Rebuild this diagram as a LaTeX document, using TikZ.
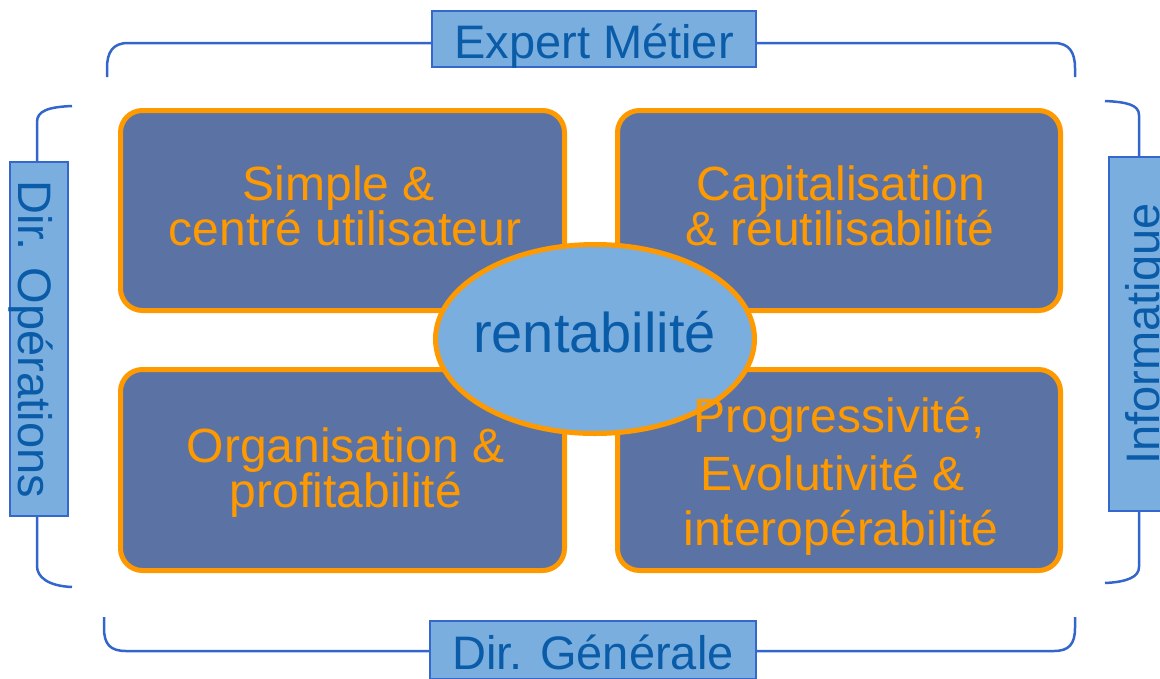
\documentclass[tikz,border=0pt]{standalone}
\usepackage{fontspec}
\setmainfont{Liberation Sans}
\usetikzlibrary{shapes.geometric}
\definecolor{boxfill}{HTML}{5A73A4}
\definecolor{orng}{HTML}{FF9900}
\definecolor{lightblue}{HTML}{7AAEDF}
\definecolor{lblborder}{HTML}{3667CC}
\definecolor{lbltext}{HTML}{0A5CA8}
\definecolor{brk}{HTML}{3366CC}
\begin{document}
\begin{tikzpicture}[x=1pt,y=-1pt,
 quad/.style={draw=orng, line width=5pt, fill=boxfill, rounded corners=22pt, minimum width=444pt, minimum height=200pt, inner sep=0pt},
 quadtxt/.style={text=orng, font=\fontsize{48}{50}\selectfont, anchor=base, inner sep=0pt},
 lbl/.style={draw=lblborder, line width=2pt, fill=lightblue, text=lbltext, font=\fontsize{47}{50}\selectfont, inner sep=0pt, text depth=0pt},
 brace/.style={draw=brk, line width=2.5pt},
 ]
\clip (0,0) rectangle (1160,678);
\fill[white] (0,0) rectangle (1160,678);
% brackets
\coordinate (topA) at (107,77);
\coordinate (topB) at (1075,77);
\coordinate (botA) at (104,617);
\coordinate (botB) at (1075,617);
\coordinate (lefA) at (72,106);
\coordinate (lefB) at (72,587);
\coordinate (rigA) at (1105,101);
\coordinate (rigB) at (1105,583);
\draw[brace] (topA) -- (107,68) .. controls (107,52) and (113,43) .. (128,43) -- (1054,43) .. controls (1069,43) and (1075,52) .. (1075,68) -- (topB);
\draw[brace] (botA) -- (104,628) .. controls (104,644) and (110,651) .. (126,651) -- (1054,651) .. controls (1069,651) and (1075,644) .. (1075,628) -- (botB);
\draw[brace] (lefA) .. controls (48,107) and (37,111) .. (37,122) -- (37,566) .. controls (37,577) and (48,586) .. (lefB);
\draw[brace] (rigA) .. controls (1127,102) and (1139,105) .. (1139,115) -- (1139,567) .. controls (1139,577) and (1127,582) .. (rigB);
% labels
\node[lbl, minimum width=324pt, minimum height=56pt, text height=38pt] (expert) at (594,39) {Expert Métier};
\node[lbl, minimum width=326pt, minimum height=58pt, text height=38pt] (dirgen) at (593,650) {Dir. Générale};
\node[lbl, rotate=-90, minimum width=354pt, minimum height=58pt, text height=42pt] (dirops) at (39,339) {Dir. Opérations};
\node[lbl, rotate=90, minimum width=354pt, minimum height=58pt, text height=42pt] (info) at (1138,334) {Informatique};
% quadrants
\node[quad] (q1) at (342.5,210.5) {};
\node[quad, minimum width=443pt] (q2) at (839,210.5) {};
\node[quad, minimum height=201pt] (q3) at (342.5,470) {};
\node[quad, minimum width=443pt, minimum height=201pt] (q4) at (839,470) {};
% centre
\node[ellipse, draw=orng, line width=5pt, fill=lightblue, minimum width=319pt, minimum height=189pt, inner sep=0pt] (core) at (595,339) {};
\node[text=lbltext, font=\fontsize{56}{60}\selectfont, anchor=base, inner sep=0pt] (coretxt) at (594.5,352) {rentabilité};
% texts
\node[quadtxt] (t1a) at (339,200) {Simple \&};
\node[quadtxt] (t1b) at (345,245) {centré utilisateur};
\node[quadtxt] (t2a) at (841,200) {Capitalisation};
\node[quadtxt] (t2b) at (840,245) {\& réutilisabilité};
\node[quadtxt] (t3a) at (345.5,462) {Organisation \&};
\node[quadtxt] (t3b) at (346,507) {profitabilité};
\node[quadtxt] (t4a) at (839,432) {Progressivité,};
\node[quadtxt] (t4b) at (833,490) {Evolutivité \&};
\node[quadtxt] (t4c) at (841,545) {interopérabilité};
\end{tikzpicture}
\end{document}
